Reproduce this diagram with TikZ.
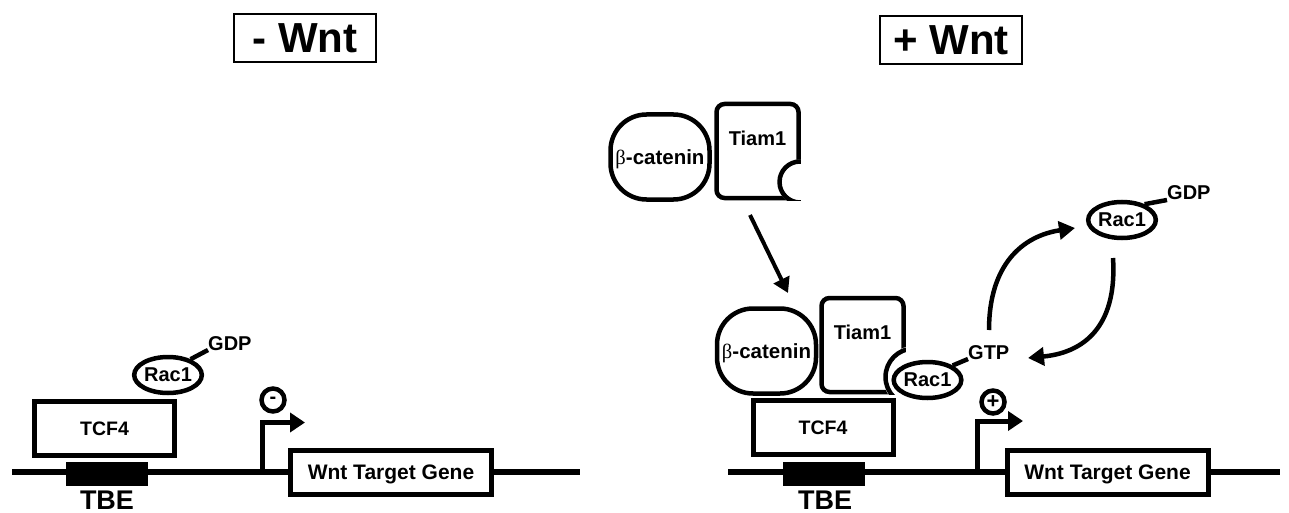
\documentclass[tikz,border=0pt]{standalone}
\usepackage{fontspec}
\setmainfont{Liberation Sans}
\newfontfamily\grk{Liberation Serif}
\usetikzlibrary{arrows.meta,shapes.geometric,positioning}
\newcommand{\fs}[1]{\fontsize{#1}{#1}\selectfont\bfseries}
\newcommand{\bcat}{{\grk\mdseries β}-catenin}
\tikzset{
  dna/.style={line width=5.5pt},
  box/.style={draw, line width=5pt, fill=white, inner sep=0pt, text depth=0pt},
  tbe/.style={fill=black, inner sep=0pt, minimum width=82pt, minimum height=24pt},
  title/.style={draw, line width=1.8pt, inner sep=0pt, minimum width=142pt, minimum height=48pt, font=\fs{42pt}},
  rac/.style={ellipse, draw, line width=4.5pt, fill=white, inner sep=0pt, minimum width=65pt, minimum height=36pt, font=\fs{20pt}},
  tag/.style={inner sep=0pt, text depth=0pt, font=\fs{20pt}},
  bcat/.style={draw, line width=4.5pt, fill=white, rounded corners=36pt, minimum width=99pt, minimum height=85pt, inner sep=0pt, text depth=0pt, font=\fs{20.5pt}},
  tiam/.style={draw, line width=4.5pt, fill=white, rounded corners=8pt, minimum width=82pt, minimum height=94pt, inner sep=0pt},
  sign/.style={circle, draw, line width=4.5pt, minimum size=23pt, inner sep=0pt, font=\fs{20pt}},
  link/.style={line width=4.5pt},
  prom/.style={line width=5pt, -{Triangle[length=15pt,width=19pt]}},
  conv/.style={line width=4.5pt, -{Triangle[length=16pt,width=18pt]}},
  move/.style={line width=4pt, -{Triangle[length=15pt,width=17pt]}}
}

\begin{document}
\begin{tikzpicture}[x=1pt, y=-1pt]
\useasboundingbox (0,0) rectangle (1289,513);
\node[title] (ttlA) at (305,38) {- Wnt};
\node[title] (ttlB) at (951,40) {+ Wnt};
% left hand
\coordinate (dnaA1) at (12,472);
\coordinate (dnaA2) at (580,472);
\draw[dna] (dnaA1) -- (dnaA2);
\node[tbe] (tbeA) at (107,474) {};
\node[tag, font=\fs{27pt}] (tbeAtxt) at (107,500) {TBE};
\node[box, minimum width=140pt, minimum height=54pt, font=\fs{19.5pt}] (tcfA) at (104.5,428.5) {TCF4};
\node[box, minimum width=201pt, minimum height=44pt, font=\fs{21pt}] (geneA) at (391,472.5) {Wnt Target Gene};
\coordinate (tssA) at (262,472);
\coordinate (tssAend) at (305,422.5);
\draw[prom] (tssA) |- (tssAend);
\node[sign] (sgnA) at (273,400) {-};
\node[rac] (racA) at (168,375) {Rac1};
\node[tag, anchor=base west] (gdpA) at (208,350) {GDP};
\draw[link] (racA.35) -- (gdpA.base west);
% right hand, free complex
\node[bcat] (bcatU) at (660,157) {\bcat};
\node[tiam] (tiamU) at (757.5,151) {};
\fill[white] (800,182) circle[radius=22.5];
\begin{scope}
\clip (tiamU.south west) rectangle (tiamU.north east);
\draw[link] (800,182) circle[radius=20.5];
\end{scope}
\node[tag, below=29pt of tiamU.north] (tiamUtxt) {Tiam1};
\coordinate (mvA) at (750,215);
\coordinate (mvB) at (788,293);
\draw[move] (mvA) -- (mvB);
% right hand, bound complex
\coordinate (dnaB1) at (728,472);
\coordinate (dnaB2) at (1280,472);
\draw[dna] (dnaB1) -- (dnaB2);
\node[tbe] (tbeB) at (824,474) {};
\node[tag, font=\fs{27pt}] (tbeBtxt) at (825,500) {TBE};
\node[box, minimum width=201pt, minimum height=44pt, font=\fs{21pt}] (geneB) at (1107.5,472.5) {Wnt Target Gene};
\coordinate (tssB) at (977.5,472);
\coordinate (tssBend) at (1023,421);
\draw[prom] (tssB) |- (tssBend);
\node[sign, font=\fs{22pt}] (sgnB) at (993,402) {+};
\node[bcat] (bcatB) at (766.5,351) {\bcat};
\node[tiam] (tiamB) at (862.5,345) {};
\fill[white] (914,377) circle[radius=31];
\begin{scope}
\clip (tiamB.south west) rectangle (tiamB.north east);
\draw[link] (914,377) circle[radius=28.5];
\end{scope}
\node[tag, below=29pt of tiamB.north] (tiamBtxt) {Tiam1};
\node[box, minimum width=140pt, minimum height=54pt, font=\fs{19.5pt}] (tcfB) at (823,427.5) {TCF4};
\node[rac] (racB) at (927.5,380) {Rac1};
\node[tag, anchor=base west] (gtpB) at (968,359) {GTP};
\draw[link] (racB.30) -- (gtpB.base west);
% GDP/GTP cycle
\node[rac] (racC) at (1122,220) {Rac1};
\node[tag, anchor=base west] (gdpC) at (1167,200) {GDP};
\draw[link] (racC.35) -- (gdpC.base west);
\coordinate (cycA) at (989,330);
\coordinate (cycB) at (1075,228);
\coordinate (cycC) at (1113,258);
\coordinate (cycD) at (1028,358);
\draw[conv] (cycA) .. controls (989,265) and (1022,236) .. (cycB);
\draw[conv] (cycC) .. controls (1117,320) and (1090,352) .. (cycD);
\end{tikzpicture}
\end{document}
